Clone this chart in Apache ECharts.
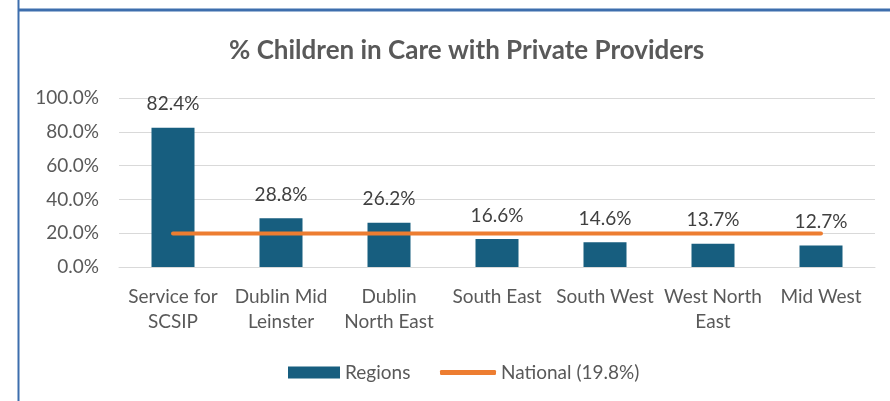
<!DOCTYPE html>
<html>
<head>
<meta charset="utf-8">
<script src="https://cdn.jsdelivr.net/npm/echarts@6/dist/echarts.min.js"></script>
<style>
  html, body { margin: 0; padding: 0; background: #fff; }
  #main { width: 890px; height: 401px; }
</style>
</head>
<body>
<div id="main"></div>
<script>
var categories = ['Service for\nSCSIP', 'Dublin Mid\nLeinster', 'Dublin\nNorth East', 'South East', 'South West', 'West North\nEast', 'Mid West'];
var regionValues = [0.824, 0.288, 0.262, 0.166, 0.146, 0.137, 0.127];
var nationalValues = [0.198, 0.198, 0.198, 0.198, 0.198, 0.198, 0.198];
var yTicks = { min: 0, max: 1, interval: 0.2 };

var font = 'Lato';
var grey = '#595959';
var fs = 19;

var chart = echarts.init(document.getElementById('main'));

var option = {
	animation: false,
	textStyle: { fontFamily: font },
	title: {
		text: '% Children in Care with Private Providers',
		left: 224,
		top: 33,
		textStyle: { fontFamily: font, fontSize: 26, fontWeight: 'bold', color: grey }
	},
	legend: [
		{
			left: 283,
			top: 358,
			itemWidth: 52,
			itemHeight: 12,
			textStyle: { fontFamily: font, fontSize: fs, color: grey },
			data: [{ name: 'Regions', icon: 'rect' }]
		},
		{
			left: 435,
			top: 358,
			itemWidth: 56,
			itemHeight: 5,
			textStyle: { fontFamily: font, fontSize: fs, color: grey },
			data: [{ name: 'National (19.8%)', icon: 'roundRect', itemStyle: { color: '#ed7d31', borderWidth: 0 } }]
		}
	],
	grid: { left: 119, right: 15, top: 98, bottom: 134 },
	xAxis: {
		type: 'category',
		data: categories,
		axisTick: { show: false },
		axisLine: { lineStyle: { color: '#d9d9d9', width: 1 } },
		axisLabel: { fontFamily: font, fontSize: fs, color: grey, lineHeight: 25, margin: 17, interval: 0 }
	},
	yAxis: {
		type: 'value',
		min: yTicks.min,
		max: yTicks.max,
		interval: yTicks.interval,
		axisLine: { show: false },
		axisTick: { show: false },
		splitLine: { lineStyle: { color: '#d9d9d9', width: 1 } },
		axisLabel: {
			fontFamily: font, fontSize: fs, color: grey, margin: 20,
			formatter: function (v) { return (v * 100).toFixed(1) + '%'; }
		}
	},
	series: [
		{
			name: 'Regions',
			type: 'bar',
			data: regionValues,
			barWidth: 43,
			itemStyle: { color: '#175e7f' },
			label: {
				show: true,
				position: 'top',
				distance: 14,
				fontFamily: font,
				fontSize: fs,
				color: '#404040',
				formatter: function (p) { return (p.value * 100).toFixed(1) + '%'; }
			}
		},
		{
			name: 'National (19.8%)',
			type: 'line',
			data: nationalValues,
			symbol: 'none',
			itemStyle: { color: '#ed7d31' },
			lineStyle: { color: '#ed7d31', width: 4, cap: 'round' },
			z: 3
		}
	],
	graphic: [
		{ type: 'line', shape: { x1: 18.5, y1: 0, x2: 18.5, y2: 401 }, style: { stroke: '#3d6ead', lineWidth: 2 } },
		{ type: 'line', shape: { x1: 18, y1: 10, x2: 890, y2: 10 }, style: { stroke: '#3d6ead', lineWidth: 3 } }
	]
};

chart.setOption(option);
</script>
</body>
</html>
